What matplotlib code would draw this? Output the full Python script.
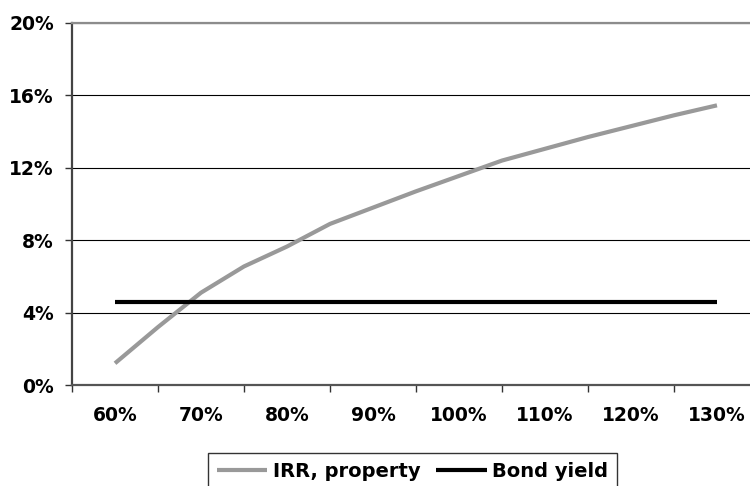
import numpy as np
import matplotlib.pyplot as plt

# loan-to-value scenarios (%) and the resulting returns (%)
ltv = [60, 65, 70, 75, 80, 85, 90, 95, 100, 105, 110, 115, 120, 125, 130]
irr_property = [1.2, 3.2, 5.1, 6.55, 7.65, 8.9, 9.8, 10.7, 11.55, 12.4,
                13.05, 13.7, 14.3, 14.9, 15.45]
bond_yield = [4.6] * len(ltv)

categories = ['60%', '70%', '80%', '90%', '100%', '110%', '120%', '130%']
y_ticks = [0, 4, 8, 12, 16, 20]

plt.rcParams['font.family'] = 'DejaVu Sans'
plt.rcParams['font.weight'] = 'bold'
plt.rcParams['font.size'] = 13.5

fig = plt.figure(figsize=(7.5, 4.86), dpi=100)
ax = fig.add_axes([0.096, 0.2078, 0.9173, 0.7449])

# category axis: each label sits in the middle of a 10-point band
x = [0.5 + (v - 60) / 10 for v in ltv]

ax.plot(x, irr_property, color='#999999', lw=3.0, solid_capstyle='butt',
        label='IRR, property', zorder=3)
ax.plot(x, bond_yield, color='black', lw=3.0, solid_capstyle='butt',
        label='Bond yield', zorder=4)

ax.set_xlim(0, len(categories))
ax.set_ylim(0, 20)

ax.set_xticks(np.arange(len(categories) + 1))
ax.set_xticklabels([])
ax.set_xticks(np.arange(len(categories)) + 0.5, categories, minor=True)
ax.tick_params(axis='x', which='major', direction='out', length=5, width=1,
               color='#333333')
ax.tick_params(axis='x', which='minor', length=0, pad=15)

ax.set_yticks(y_ticks)
ax.set_yticklabels([f'{v}%' for v in y_ticks])
ax.tick_params(axis='y', direction='out', length=5, width=1, pad=8,
               color='#333333')

ax.yaxis.grid(True, color='black', lw=0.8)
ax.set_axisbelow(True)

ax.spines['right'].set_visible(False)
ax.spines['top'].set_color('#8c8c8c')
ax.spines['top'].set_linewidth(1.6)
ax.spines['left'].set_color('#444444')
ax.spines['left'].set_linewidth(1.6)
ax.spines['bottom'].set_color('#555555')
ax.spines['bottom'].set_linewidth(1.6)

leg = fig.legend(loc='upper center', bbox_to_anchor=(0.55, 1 - 453 / 486),
                 ncol=2, frameon=True, fancybox=False, borderaxespad=0,
                 fontsize=14, handlelength=2.6, handletextpad=0.3,
                 columnspacing=0.8, borderpad=0.45)
leg.get_frame().set_edgecolor('black')
leg.get_frame().set_linewidth(1.0)

fig.savefig('out.png', dpi=100)
